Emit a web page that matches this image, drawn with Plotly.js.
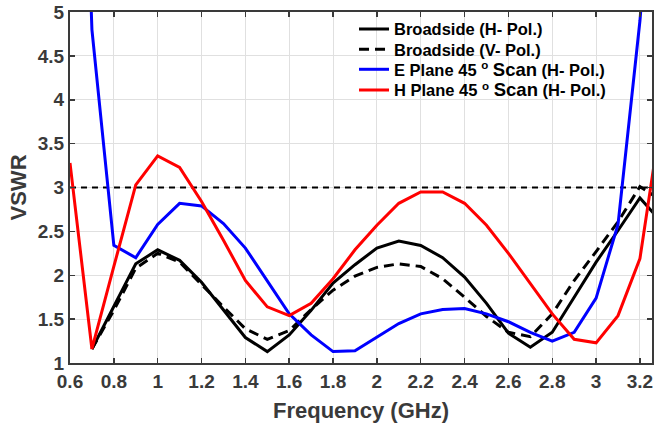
<!DOCTYPE html>
<html>
<head>
<meta charset="utf-8">
<script src="https://cdn.plot.ly/plotly-3.0.1.min.js"></script>
<style>html,body{margin:0;padding:0;background:#fff}#chart{width:654px;height:429px}</style>
</head>
<body>
<div id="chart"></div>
<script>
var freq = [0.6,0.7,0.8,0.9,1.0,1.1,1.2,1.3,1.4,1.5,1.6,1.7,1.8,1.9,2.0,2.1,2.2,2.3,2.4,2.5,2.6,2.7,2.8,2.9,3.0,3.1,3.2,3.3];
var broadsideH = [null,1.16,1.64,2.13,2.29,2.17,1.92,1.60,1.29,1.13,1.32,1.60,1.91,2.12,2.31,2.39,2.34,2.20,1.98,1.68,1.34,1.18,1.35,1.75,2.15,2.51,2.88,2.60];
var broadsideV = [null,1.16,1.60,2.08,2.25,2.15,1.89,1.64,1.39,1.27,1.37,1.61,1.83,1.99,2.09,2.13,2.10,1.96,1.75,1.53,1.35,1.30,1.56,1.94,2.27,2.61,3.01,2.85];
var ePlane45 = [12,4.8,2.34,2.20,2.58,2.82,2.79,2.59,2.31,1.93,1.56,1.32,1.13,1.14,1.30,1.45,1.56,1.61,1.62,1.56,1.47,1.35,1.25,1.35,1.74,2.58,4.9,8];
var hPlane45 = [3.28,1.16,2.10,3.03,3.36,3.23,2.84,2.40,1.94,1.64,1.54,1.68,1.96,2.29,2.57,2.82,2.95,2.95,2.82,2.57,2.25,1.91,1.56,1.27,1.23,1.54,2.19,3.85];
var thresholdX = [0.6, 3.3];
var thresholdY = [3, 3];
var names = ['Broadside (H- Pol.)','Broadside (V- Pol.)',
  'E Plane 45 <sup>o</sup> <span style="font-size:18.5px">Scan</span> (H- Pol.)',
  'H Plane 45 <sup>o</sup> <span style="font-size:18.5px">Scan</span> (H- Pol.)'];
var xTicks = [0.6,0.8,1,1.2,1.4,1.6,1.8,2,2.2,2.4,2.6,2.8,3,3.2];
var yTicks = [1,1.5,2,2.5,3,3.5,4,4.5,5];

var FONT = 'Liberation Sans, Arial, sans-serif';
var traces = [
  {x: thresholdX, y: thresholdY, mode:'lines', line:{color:'#000', width:2, dash:'6px,5px'}, showlegend:false, hoverinfo:'skip'},
  {x: freq, y: broadsideH, name: names[0], mode:'lines', line:{color:'#000', width:3}, legend:'legend'},
  {x: freq, y: broadsideV, name: names[1], mode:'lines', line:{color:'#000', width:3, dash:'10px,6px'}, legend:'legend2'},
  {x: freq, y: ePlane45, name: names[2], mode:'lines', line:{color:'#0000ff', width:3}, legend:'legend3'},
  {x: freq, y: hPlane45, name: names[3], mode:'lines', line:{color:'#ff0000', width:3}, legend:'legend4'}
];
function leg(yc){
  return {x:0.488, y:yc, xanchor:'left', yanchor:'middle', bgcolor:'rgba(0,0,0,0)', borderwidth:0,
    font:{family:FONT, size:16.5, color:'#000', weight:'bold'}, itemwidth:30};
}
var axisCommon = {
  showline:true, linecolor:'#3a3a3a', linewidth:2, mirror:'ticks',
  ticks:'inside', ticklen:5, tickwidth:1.5, tickcolor:'#3a3a3a',
  showgrid:true, gridcolor:'#e0e0e0', gridwidth:1, zeroline:false,
  tickfont:{family:FONT, size:19, color:'#3a3a3a', weight:'bold'}
};
var layout = {
  width:654, height:429,
  margin:{l:70, r:2, t:12, b:66},
  paper_bgcolor:'#fff', plot_bgcolor:'#fff',
  showlegend:true,
  legend: leg(0.951), legend2: leg(0.893), legend3: leg(0.836), legend4: leg(0.777),
  xaxis: Object.assign({}, axisCommon, {range:[0.6,3.255], tickvals:xTicks,
    title:{text:'Frequency (GHz)', standoff:12, font:{family:FONT, size:22, color:'#3a3a3a', weight:'bold'}}}),
  yaxis: Object.assign({}, axisCommon, {range:[1,5], tickvals:yTicks,
    title:{text:'VSWR', standoff:5, font:{family:FONT, size:22, color:'#3a3a3a', weight:'bold'}}})
};
Plotly.newPlot('chart', traces, layout, {displayModeBar:false, staticPlot:true});
</script>
</body>
</html>
